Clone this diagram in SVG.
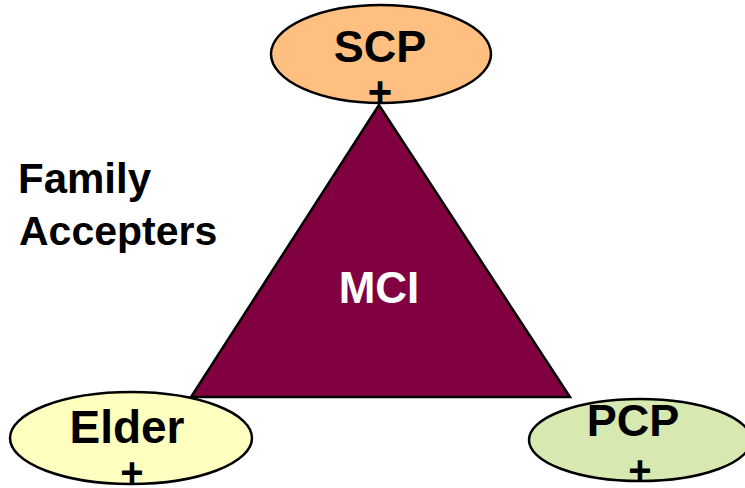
<svg xmlns="http://www.w3.org/2000/svg" width="745" height="488" viewBox="0 0 745 488">
<style>
.node{stroke:#000;stroke-width:2.5}
.t{font-family:"Liberation Sans",Arial,sans-serif;font-weight:bold;fill:#000;text-anchor:middle}
.lbl{font-family:"Liberation Sans",Arial,sans-serif;font-weight:bold;fill:#000}
</style>
<rect width="745" height="488" fill="#fff"/>
<g id="mci">
<polygon class="node" points="379,105 191,397 570,397" fill="#800040" stroke-linejoin="miter"/>
<text class="t" x="379" y="303" font-size="44" style="fill:#fff">MCI</text>
</g>
<g id="connectors"></g>
<g id="scp">
<ellipse class="node" cx="381" cy="54" rx="110" ry="49" fill="#FFBF80"/>
<text class="t" x="380" y="62" font-size="45">SCP</text>
<text class="t" x="380" y="106" font-size="42">+</text>
</g>
<g id="elder">
<ellipse class="node" cx="131" cy="438" rx="121" ry="46" fill="#FFFFC0"/>
<text class="t" x="127" y="443" font-size="46">Elder</text>
<text class="t" x="132" y="486" font-size="40">+</text>
</g>
<g id="pcp">
<ellipse class="node" cx="640" cy="440" rx="111" ry="41" fill="#D7E9B0"/>
<text class="t" x="633" y="436" font-size="45">PCP</text>
<text class="t" x="640" y="484" font-size="40">+</text>
</g>
<g id="family">
<text class="lbl" x="18" y="193" font-size="42">Family</text>
<text class="lbl" x="19" y="245" font-size="41">Accepters</text>
</g>
</svg>
